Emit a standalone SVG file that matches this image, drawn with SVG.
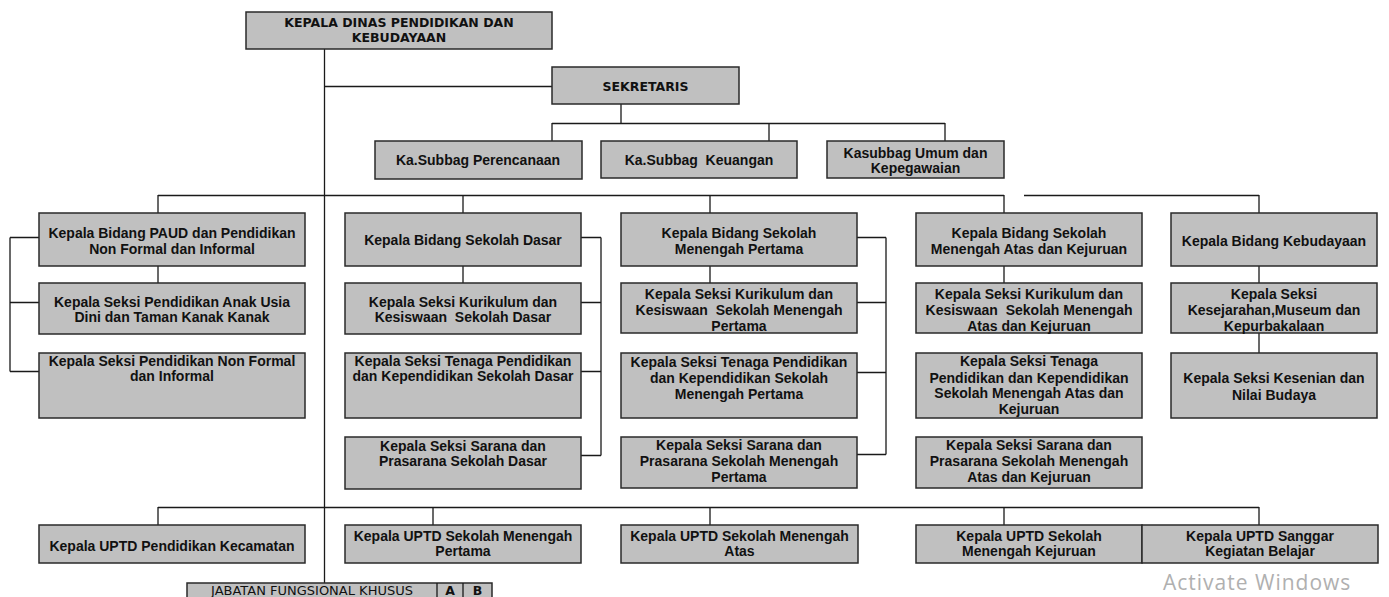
<svg xmlns="http://www.w3.org/2000/svg" width="1389" height="597" viewBox="0 0 1389 597">
<style>
.box{fill:#c0c0c0;stroke:#2a2a2a;stroke-width:1.5}
.ln{fill:none;stroke:#1a1a1a;stroke-width:1.3}
.t{font-family:"Liberation Sans",Arial,sans-serif;font-weight:bold;font-size:14px;text-anchor:middle;fill:#111;white-space:pre}
.h{font-family:"DejaVu Sans",Verdana,sans-serif;font-weight:bold;font-size:12.5px;text-anchor:middle;fill:#111}
.j{font-family:"DejaVu Sans",Verdana,sans-serif;font-size:13px;text-anchor:middle;fill:#111}
.w{font-family:"Open Sans","Noto Sans",sans-serif;font-size:21px;letter-spacing:1px;fill:#b0b0b0}
</style>
<rect width="1389" height="597" fill="#fff"/>
<g id="connectors">
<path class="ln" d="M324.5 49V583M324.5 86.5H552M621 104V123.5M552 123.5H945M552 123V141M769 123V141M945 123V141"/>
<path class="ln" d="M158 195.5H1004M1024 195.5H1259M158 195V213M463 195V213M710 195V213M1004 195V213M1259 195V213"/>
<path class="ln" d="M158 266V283M10 237.5V371.5M10 237.5H39M10 302.5H39M10 371.5H39"/>
<path class="ln" d="M463 266V283M601 237.5V455.5M581 237.5H601M581 302.5H601M581 371.5H601M581 455.5H601"/>
<path class="ln" d="M710 266V283M886 237.5V454.5M857 237.5H886M857 302.5H886M857 372.5H886M857 454.5H886"/>
<path class="ln" d="M1004 266V283M1259 266V283M1259 333V353"/>
<path class="ln" d="M158 507.5H1259M158 507V525M433 507V525M710 507V525M1004 507V525M1259 507V525"/>
</g>
<g id="kepala-dinas"><rect class="box" x="246" y="12" width="306" height="37"/><text class="h" x="399" y="27.3">KEPALA DINAS PENDIDIKAN DAN</text><text class="h" x="399" y="41.5">KEBUDAYAAN</text></g>
<g id="sekretaris"><rect class="box" x="552" y="67" width="187" height="37"/><text class="h" x="645.5" y="90.5">SEKRETARIS</text></g>
<g id="subbag-perencanaan"><rect class="box" x="375" y="141" width="207" height="38"/><text class="t" x="478" y="165">Ka.Subbag Perencanaan</text></g>
<g id="subbag-keuangan"><rect class="box" x="601" y="141" width="196" height="37"/><text class="t" x="699" y="165">Ka.Subbag  Keuangan</text></g>
<g id="subbag-umum"><rect class="box" x="827" y="141" width="177" height="37"/><text class="t" x="915.5" y="157.5">Kasubbag Umum dan</text><text class="t" x="915.5" y="172.5">Kepegawaian</text></g>
<g id="bidang-paud"><rect class="box" x="39" y="213" width="266" height="53"/><text class="t" x="172" y="238">Kepala Bidang PAUD dan Pendidikan</text><text class="t" x="172" y="254">Non Formal dan Informal</text></g>
<g id="bidang-sd"><rect class="box" x="345" y="213" width="236" height="53"/><text class="t" x="463" y="245">Kepala Bidang Sekolah Dasar</text></g>
<g id="bidang-smp"><rect class="box" x="621" y="213" width="236" height="53"/><text class="t" x="739" y="238">Kepala Bidang Sekolah</text><text class="t" x="739" y="254">Menengah Pertama</text></g>
<g id="bidang-sma"><rect class="box" x="916" y="213" width="226" height="53"/><text class="t" x="1029" y="238">Kepala Bidang Sekolah</text><text class="t" x="1029" y="254">Menengah Atas dan Kejuruan</text></g>
<g id="bidang-kebudayaan"><rect class="box" x="1171" y="213" width="206" height="53"/><text class="t" x="1274" y="245.5">Kepala Bidang Kebudayaan</text></g>
<g id="seksi-paud"><rect class="box" x="39" y="283" width="266" height="51"/><text class="t" x="172" y="306.5">Kepala Seksi Pendidikan Anak Usia</text><text class="t" x="172" y="322">Dini dan Taman Kanak Kanak</text></g>
<g id="seksi-nonformal"><rect class="box" x="39" y="353" width="266" height="65"/><text class="t" x="172" y="365.7">Kepala Seksi Pendidikan Non Formal</text><text class="t" x="172" y="381">dan Informal</text></g>
<g id="seksi-kurikulum-sd"><rect class="box" x="345" y="283" width="236" height="51"/><text class="t" x="463" y="306.5">Kepala Seksi Kurikulum dan</text><text class="t" x="463" y="322">Kesiswaan  Sekolah Dasar</text></g>
<g id="seksi-tenaga-sd"><rect class="box" x="345" y="353" width="236" height="65"/><text class="t" x="463" y="365.7">Kepala Seksi Tenaga Pendidikan</text><text class="t" x="463" y="381">dan Kependidikan Sekolah Dasar</text></g>
<g id="seksi-sarana-sd"><rect class="box" x="345" y="437" width="236" height="52"/><text class="t" x="463" y="450.7">Kepala Seksi Sarana dan</text><text class="t" x="463" y="465.7">Prasarana Sekolah Dasar</text></g>
<g id="seksi-kurikulum-smp"><rect class="box" x="621" y="283" width="236" height="50"/><text class="t" x="739" y="298.5">Kepala Seksi Kurikulum dan</text><text class="t" x="739" y="314.8">Kesiswaan  Sekolah Menengah</text><text class="t" x="739" y="331">Pertama</text></g>
<g id="seksi-tenaga-smp"><rect class="box" x="621" y="353" width="236" height="65"/><text class="t" x="739" y="366.5">Kepala Seksi Tenaga Pendidikan</text><text class="t" x="739" y="383">dan Kependidikan Sekolah</text><text class="t" x="739" y="398.5">Menengah Pertama</text></g>
<g id="seksi-sarana-smp"><rect class="box" x="621" y="437" width="236" height="51"/><text class="t" x="739" y="450">Kepala Seksi Sarana dan</text><text class="t" x="739" y="466">Prasarana Sekolah Menengah</text><text class="t" x="739" y="482">Pertama</text></g>
<g id="seksi-kurikulum-sma"><rect class="box" x="916" y="283" width="226" height="50"/><text class="t" x="1029" y="298.5">Kepala Seksi Kurikulum dan</text><text class="t" x="1029" y="314.8">Kesiswaan  Sekolah Menengah</text><text class="t" x="1029" y="331">Atas dan Kejuruan</text></g>
<g id="seksi-tenaga-sma"><rect class="box" x="916" y="353" width="226" height="65"/><text class="t" x="1029" y="366.3">Kepala Seksi Tenaga</text><text class="t" x="1029" y="382.7">Pendidikan dan Kependidikan</text><text class="t" x="1029" y="398.3">Sekolah Menengah Atas dan</text><text class="t" x="1029" y="414">Kejuruan</text></g>
<g id="seksi-sarana-sma"><rect class="box" x="916" y="437" width="226" height="51"/><text class="t" x="1029" y="450">Kepala Seksi Sarana dan</text><text class="t" x="1029" y="466">Prasarana Sekolah Menengah</text><text class="t" x="1029" y="482">Atas dan Kejuruan</text></g>
<g id="seksi-kesejarahan"><rect class="box" x="1171" y="283" width="206" height="50"/><text class="t" x="1274" y="298.5">Kepala Seksi</text><text class="t" x="1274" y="314.8">Kesejarahan,Museum dan</text><text class="t" x="1274" y="331">Kepurbakalaan</text></g>
<g id="seksi-kesenian"><rect class="box" x="1171" y="353" width="206" height="65"/><text class="t" x="1274" y="383.3">Kepala Seksi Kesenian dan</text><text class="t" x="1274" y="400">Nilai Budaya</text></g>
<g id="uptd-kecamatan"><rect class="box" x="39" y="525" width="266" height="38"/><text class="t" x="172" y="550.7">Kepala UPTD Pendidikan Kecamatan</text></g>
<g id="uptd-smp"><rect class="box" x="345" y="525" width="236" height="38"/><text class="t" x="463" y="540.7">Kepala UPTD Sekolah Menengah</text><text class="t" x="463" y="556">Pertama</text></g>
<g id="uptd-sma"><rect class="box" x="621" y="525" width="237" height="38"/><text class="t" x="739.5" y="540.7">Kepala UPTD Sekolah Menengah</text><text class="t" x="739.5" y="556">Atas</text></g>
<g id="uptd-smk"><rect class="box" x="916" y="525" width="226" height="38"/><text class="t" x="1029" y="540.7">Kepala UPTD Sekolah</text><text class="t" x="1029" y="556">Menengah Kejuruan</text></g>
<g id="uptd-sanggar"><rect class="box" x="1142" y="525" width="236" height="38"/><text class="t" x="1260" y="540.7">Kepala UPTD Sanggar</text><text class="t" x="1260" y="556">Kegiatan Belajar</text></g>
<g id="jabatan-fungsional">
<rect class="box" x="187" y="583" width="305" height="20"/>
<path class="ln" d="M437 583V597M463 583V597"/>
<text class="j" x="312" y="595">JABATAN FUNGSIONAL KHUSUS</text>
<text class="h" x="450" y="595">A</text>
<text class="h" x="477.5" y="595">B</text>
</g>
<text class="w" x="1163" y="590">Activate Windows</text>
</svg>
